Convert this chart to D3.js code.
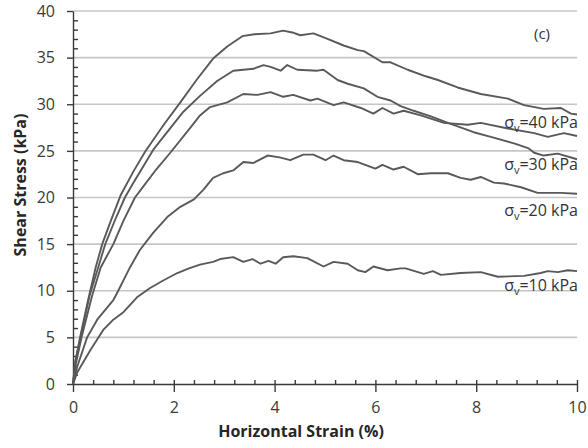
<!DOCTYPE html>
<html>
<head>
<meta charset="utf-8">
<script src="https://cdn.jsdelivr.net/npm/d3@7"></script>
<style>
  body { margin: 0; background: #fff; }
  svg { display: block; font-family: "Open Sans", sans-serif; }
</style>
</head>
<body>
<div class="res"></div>
<script>
// strain (%) / shear stress (kPa), one array per curve
const curve1 = [[0,0],[0.05,2.5],[0.14,5.0],[0.3,9.0],[0.45,12.5],[0.58,15],[0.75,17.5],[0.95,20.3],[1.2,22.8],[1.43,24.9],[1.8,27.8],[2.13,30.2],[2.45,32.6],[2.78,34.9],[3.06,36.2],[3.36,37.3],[3.6,37.5],[3.92,37.6],[4.17,37.9],[4.35,37.7],[4.51,37.4],[4.77,37.6],[5.05,37.0],[5.37,36.3],[5.65,35.8],[5.77,35.7],[6.14,34.5],[6.3,34.5],[6.64,33.7],[7.0,33.0],[7.24,32.6],[7.63,31.8],[8.09,31.1],[8.63,30.6],[8.95,29.9],[9.34,29.5],[9.68,29.6],[9.88,29.0],[10.0,28.9]];
const curve2 = [[0,0],[0.05,2.5],[0.15,5],[0.33,9.5],[0.5,12.5],[0.64,15],[0.85,17.8],[1.03,20],[1.19,21.5],[1.59,25.1],[2.19,29.2],[2.52,30.9],[2.86,32.5],[3.18,33.6],[3.58,33.8],[3.78,34.2],[3.92,34.0],[4.12,33.6],[4.25,34.2],[4.45,33.7],[4.85,33.6],[4.97,33.7],[5.25,32.6],[5.45,32.2],[5.77,31.7],[6.04,30.8],[6.3,30.4],[6.5,29.8],[6.76,29.3],[7.1,28.7],[7.44,28.0],[7.95,27.0],[8.29,26.5],[8.75,25.8],[9.03,25.3],[9.15,24.8],[9.34,24.5],[9.62,24.7],[10.0,24.1]];
const curve3 = [[0,0],[0.05,2],[0.17,5],[0.38,9.5],[0.55,12.5],[0.8,15],[1.0,17.5],[1.23,20],[1.37,21],[1.65,23],[1.93,24.8],[2.33,27.5],[2.52,28.8],[2.72,29.7],[3.06,30.2],[3.38,31.1],[3.66,31.0],[3.92,31.3],[4.17,30.8],[4.37,31.0],[4.71,30.4],[4.85,30.6],[5.17,29.9],[5.37,30.2],[5.71,29.6],[5.96,29.0],[6.14,29.6],[6.36,29.0],[6.56,29.3],[6.9,28.8],[7.36,28.0],[7.83,27.8],[8.09,28.0],[8.63,27.4],[9.15,26.9],[9.42,26.5],[9.74,26.9],[10,26.6]];
const curve4 = [[0,0],[0.08,1.8],[0.28,5.0],[0.48,6.9],[0.8,9.0],[0.87,9.7],[1.13,12.5],[1.33,14.4],[1.59,16.2],[1.87,17.9],[2.13,19.0],[2.4,19.8],[2.58,20.8],[2.78,22.1],[2.98,22.6],[3.18,22.9],[3.38,23.8],[3.58,23.7],[3.86,24.5],[4.1,24.3],[4.31,24.0],[4.57,24.6],[4.77,24.6],[5.01,24.0],[5.17,24.5],[5.37,24.0],[5.65,23.8],[6.0,23.1],[6.14,23.5],[6.36,23.0],[6.56,23.3],[6.84,22.5],[7.1,22.6],[7.44,22.6],[7.69,22.1],[7.89,21.9],[8.09,22.2],[8.35,21.6],[8.55,21.5],[8.89,21.1],[9.22,20.5],[9.68,20.5],[10,20.4]];
const curve5 = [[0,0],[0.08,1.2],[0.34,3.6],[0.6,5.8],[0.8,6.9],[1.0,7.7],[1.27,9.3],[1.53,10.3],[1.79,11.1],[2.07,11.9],[2.3,12.4],[2.52,12.8],[2.78,13.1],[2.92,13.4],[3.18,13.6],[3.38,13.1],[3.56,13.4],[3.72,12.9],[3.88,13.2],[4.02,12.9],[4.17,13.6],[4.37,13.7],[4.65,13.5],[4.97,12.6],[5.17,13.1],[5.45,12.9],[5.65,12.2],[5.8,12.0],[5.96,12.6],[6.24,12.2],[6.5,12.4],[6.6,12.4],[6.96,11.8],[7.14,12.1],[7.3,11.7],[7.69,11.9],[8.09,12.0],[8.43,11.5],[8.95,11.6],[9.28,11.9],[9.42,12.1],[9.62,12.0],[9.82,12.2],[10,12.1]];

const xTicks = [0, 2, 4, 6, 8, 10];
const yTicks = [0, 5, 10, 15, 20, 25, 30, 35, 40];
// labels at the right end: pressure, y position (kPa)
const labelNames = ['40', '30', '20', '10'];
const labelY = [27.4, 23.0, 18.0, 10.0];

const W = 588, H = 448;

const svg = d3.select('div.res')
    .append('svg')
    .attr('width', W)
    .attr('height', H)

const x = d3.scaleLinear().domain([0, 10]).range([73, 577]);
const y = d3.scaleLinear().domain([0, 40]).range([384, 11]);

// grid
svg.append('g')
    .selectAll('line')
    .data(yTicks.filter(d => d > 0))
    .enter().append('line')
    .attr('x1', x(0)).attr('x2', x(10))
    .attr('y1', d => y(d)).attr('y2', d => y(d))
    .style('stroke', '#c6c6c6')
    .style('stroke-width', 1.6)

// minor ticks (inside)
svg.append('g')
    .attr('transform', `translate(${x(0)},0)`)
    .call(d3.axisRight(y).tickValues(d3.range(1, 40).filter(d => d % 5)).tickSize(5).tickFormat(''))
    .call(g => g.select('.domain').remove())
svg.append('g')
    .attr('transform', `translate(0,${y(0)})`)
    .call(d3.axisTop(x).tickValues(d3.range(1, 25).map(d => d * 0.4).filter(d => Math.abs(d / 2 - Math.round(d / 2)) > 0.01)).tickSize(4).tickFormat(''))
    .call(g => g.select('.domain').remove())

// Y axis
svg.append('g')
    .attr('transform', `translate(${x(0)},0)`)
    .call(d3.axisLeft(y).tickValues(yTicks).tickSize(6).tickPadding(12).tickSizeOuter(0))
    .call(g => g.selectAll('text').style('font-size', '16px').attr('fill', '#3a3a3a').attr('font-family', '"Open Sans", sans-serif'))

// X axis, major ticks cross the line
svg.append('g')
    .attr('transform', `translate(0,${y(0)})`)
    .call(d3.axisBottom(x).tickValues(xTicks).tickSize(8).tickPadding(10).tickSizeOuter(0))
    .call(g => g.selectAll('.tick line').attr('y1', -4))
    .call(g => g.selectAll('text').style('font-size', '16px').attr('fill', '#3a3a3a').attr('font-family', '"Open Sans", sans-serif'))

svg.selectAll('.domain, .tick line')
    .style('stroke', '#3a3a3a')
    .style('stroke-width', 1.4)

// curves
const line = d3.line().x(d => x(d[0])).y(d => y(d[1]));
svg.append('g')
    .selectAll('path')
    .data([curve1, curve2, curve3, curve4, curve5])
    .enter().append('path')
    .attr('d', line)
    .style('fill', 'none')
    .style('stroke', '#595959')
    .style('stroke-width', 1.9)
    .style('stroke-linejoin', 'round')

// sigma labels
const lbl = svg.append('g')
    .selectAll('text')
    .data(labelNames)
    .enter().append('text')
    .attr('x', x(10.02))
    .attr('y', (d, i) => y(labelY[i]))
    .attr('text-anchor', 'end')
    .style('font-size', '16px')
    .style('fill', '#333')
lbl.append('tspan').text('σ')
lbl.append('tspan').text('v').attr('dy', 4).style('font-size', '11px')
lbl.append('tspan').text(d => `=${d} kPa`).attr('dy', -4)

svg.append('text')
    .attr('x', 542)
    .attr('y', 39)
    .attr('text-anchor', 'middle')
    .style('font-size', '15px')
    .style('fill', '#333')
    .text('(c)')

// axis titles
svg.append('text')
    .attr('x', 301)
    .attr('y', 437)
    .attr('text-anchor', 'middle')
    .style('font-size', '16px')
    .style('font-weight', 'bold')
    .style('fill', '#262626')
    .text('Horizontal Strain (%)')

svg.append('text')
    .attr('transform', 'translate(26,185) rotate(-90)')
    .attr('text-anchor', 'middle')
    .style('font-size', '16px')
    .style('font-weight', 'bold')
    .style('fill', '#262626')
    .text('Shear Stress (kPa)')
</script>
</body>
</html>
